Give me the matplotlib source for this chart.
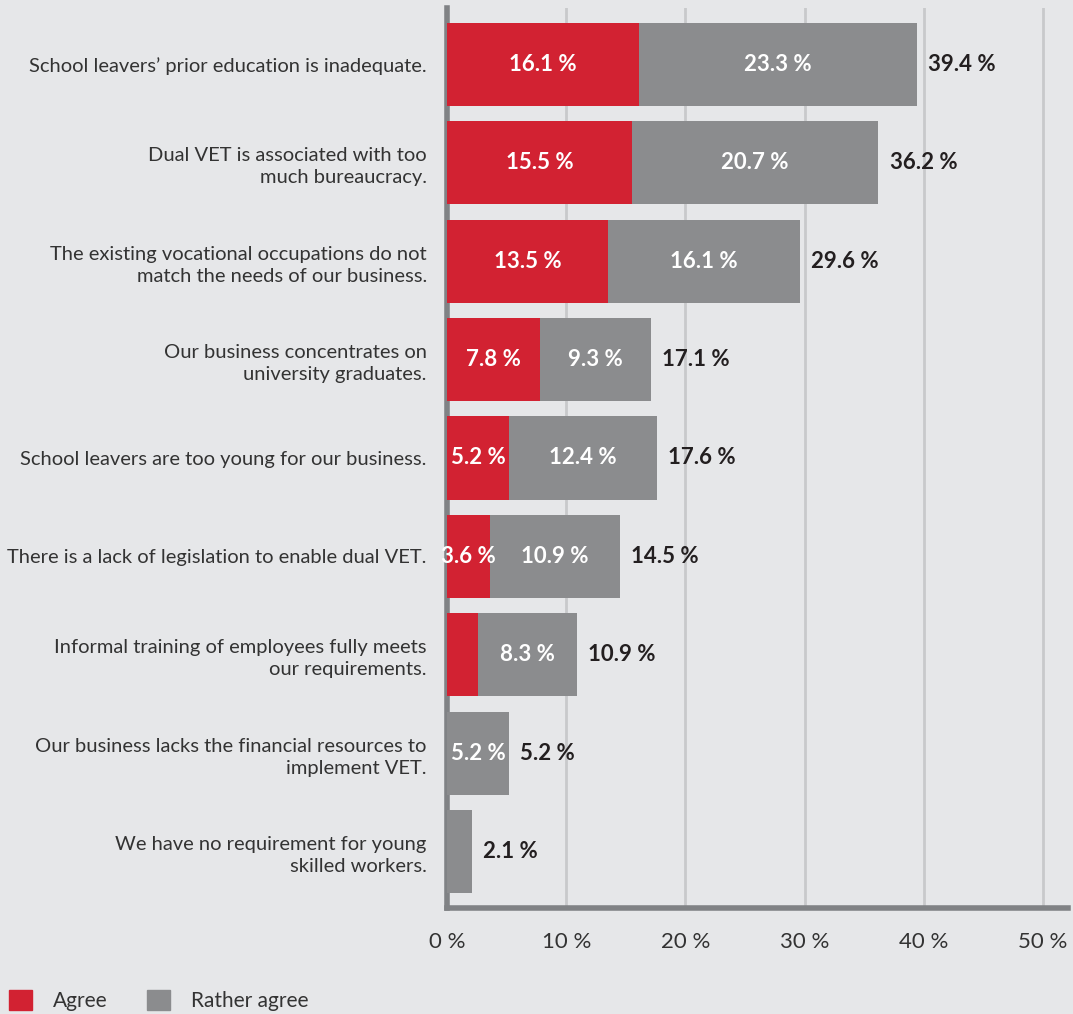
import matplotlib.pyplot as plt
from matplotlib.patches import Patch

# data
labels = [
    "School leavers\u2019 prior education is inadequate.",
    "Dual VET is associated with too\nmuch bureaucracy.",
    "The existing vocational occupations do not\nmatch the needs of our business.",
    "Our business concentrates on\nuniversity graduates.",
    "School leavers are too young for our business.",
    "There is a lack of legislation to enable dual VET.",
    "Informal training of employees fully meets\nour requirements.",
    "Our business lacks the financial resources to\nimplement VET.",
    "We have no requirement for young\nskilled workers.",
]
agree = [16.1, 15.5, 13.5, 7.8, 5.2, 3.6, 2.6, 0.0, 0.0]
rather = [23.3, 20.7, 16.1, 9.3, 12.4, 10.9, 8.3, 5.2, 2.1]
totals = [39.4, 36.2, 29.6, 17.1, 17.6, 14.5, 10.9, 5.2, 2.1]
ticks = [0, 10, 20, 30, 40, 50]

red = '#d22232'
grey = '#8b8c8e'
bg = '#e6e7e9'
txt = '#231f20'

plt.rcParams['font.family'] = ['Lato', 'DejaVu Sans']

fig = plt.figure(figsize=(10.73, 10.14), dpi=100, facecolor=bg)
ax = fig.add_axes([447 / 1073, 1 - 908 / 1014, (1068 - 447) / 1073, 900 / 1014])
ax.set_facecolor(bg)

y = list(range(len(labels)))
h = 0.844
ax.barh(y, agree, height=h, color=red, zorder=3)
ax.barh(y, rather, left=agree, height=h, color=grey, zorder=3)

for i in y:
    if agree[i] >= 3:
        ax.text(agree[i] / 2, i, f"{agree[i]:.1f} %", ha='center', va='center',
                color='white', fontsize=16, fontweight='bold', zorder=4)
    if rather[i] >= 3:
        ax.text(agree[i] + rather[i] / 2, i, f"{rather[i]:.1f} %", ha='center', va='center',
                color='white', fontsize=16, fontweight='bold', zorder=4)
    ax.text(totals[i] + 0.95, i, f"{totals[i]:.1f} %", ha='left', va='center',
            color=txt, fontsize=16, fontweight='bold', zorder=4)

ax.set_xlim(0, 52.1)
ax.set_ylim(len(labels) - 0.426, -0.574)
ax.set_xticks(ticks)
ax.set_xticklabels([f"{t} %" for t in ticks], fontsize=16, color='#333333')
ax.set_yticks(y)
ax.set_yticklabels(labels, fontsize=14.5, color='#333333', linespacing=1.35)
ax.tick_params(axis='x', length=0, pad=17)
ax.tick_params(axis='y', length=0, pad=14.5)
ax.grid(axis='x', color='#c8c9cb', linewidth=2, zorder=0)

for s in ['top', 'right']:
    ax.spines[s].set_visible(False)
ax.spines['left'].set_color('#808285')
ax.spines['left'].set_linewidth(4)
ax.spines['bottom'].set_color('#808285')
ax.spines['bottom'].set_linewidth(4)

handles = [Patch(color=red, label='Agree'), Patch(color=grey, label='Rather agree')]
fig.legend(handles=handles, loc='lower left', bbox_to_anchor=(-0.009, -0.016), ncol=2,
           frameon=False, fontsize=15, handlelength=1.1, handleheight=1.1,
           columnspacing=1.9, handletextpad=1.0, labelcolor='#333333')

fig.savefig('out.png', dpi=100, facecolor=bg)
